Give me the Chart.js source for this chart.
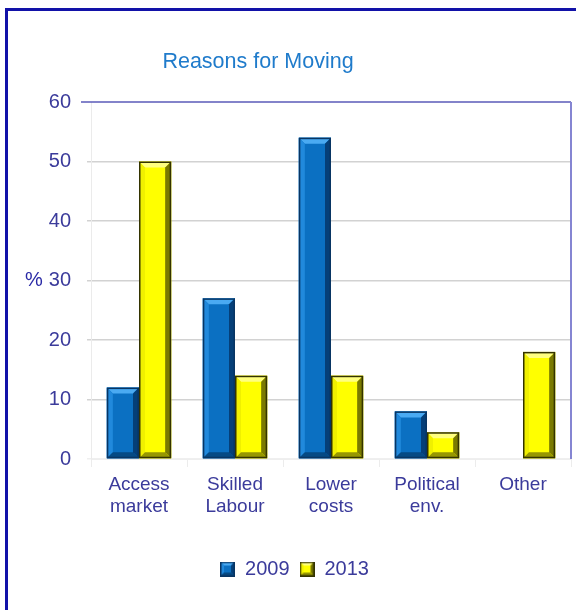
<!DOCTYPE html>
<html>
<head>
<meta charset="utf-8">
<title>Reasons for Moving</title>
<script src="https://cdn.jsdelivr.net/npm/chart.js@4"></script>
<style>
  html, body { margin: 0; padding: 0; background: #fff; }
  #wrap { width: 576px; height: 610px; }
</style>
</head>
<body>
<div id="wrap"><canvas id="grafico" width="576" height="610"></canvas></div>
<script>
// dados do gráfico
const categorias = [['Access', 'market'], ['Skilled', 'Labour'], ['Lower', 'costs'], ['Political', 'env.'], ['Other']];
const anos = ['2009', '2013'];
const valores2009 = [12, 27, 54, 8, null];
const valores2013 = [50, 14, 14, 4.5, 18];
const ticksY = [0, 10, 20, 30, 40, 50, 60];

const corTexto = '#3b3b9b';
const fonte = '"Liberation Sans", Arial, sans-serif';

// paletas do efeito 3D (base, topo, esquerda, direita, baixo, contorno)
const bevelAzul = { base: '#0b70c2', top: '#4aaaf2', left: '#2189dc', right: '#053f78', bottom: '#064a84', edge: '#083563' };
const bevelAmarelo = { base: '#ffff00', top: '#ffff80', left: '#f0f000', right: '#7a7a00', bottom: '#979700', edge: '#333300' };

function desenharBevel(ctx, left, top, right, bottom, p, b) {
  b = Math.min(b, (right - left) / 2, (bottom - top) / 2);
  ctx.save();
  ctx.fillStyle = p.base;
  ctx.fillRect(left, top, right - left, bottom - top);
  const poly = (pts, cor) => {
    ctx.beginPath();
    ctx.moveTo(pts[0][0], pts[0][1]);
    for (let i = 1; i < pts.length; i++) ctx.lineTo(pts[i][0], pts[i][1]);
    ctx.closePath();
    ctx.fillStyle = cor;
    ctx.fill();
  };
  poly([[left, top], [right, top], [right - b, top + b], [left + b, top + b]], p.top);
  poly([[left, top], [left + b, top + b], [left + b, bottom - b], [left, bottom]], p.left);
  poly([[right, top], [right, bottom], [right - b, bottom - b], [right - b, top + b]], p.right);
  poly([[left, bottom], [left + b, bottom - b], [right - b, bottom - b], [right, bottom]], p.bottom);
  ctx.strokeStyle = p.edge;
  ctx.lineWidth = 1.5;
  ctx.strokeRect(left + 0.75, top + 0.75, right - left - 1.5, bottom - top - 1.5);
  ctx.restore();
}

// quadradinhos da legenda com o mesmo efeito
function caixaLegenda(p) {
  const c = document.createElement('canvas');
  c.width = 15;
  c.height = 15;
  desenharBevel(c.getContext('2d'), 0, 0, 15, 15, p, 4);
  return c;
}

const pluginMoldura = {
  id: 'moldura',
  beforeDraw(chart) {
    const ctx = chart.ctx;
    ctx.save();
    ctx.fillStyle = '#ffffff';
    ctx.fillRect(0, 0, chart.width, chart.height);
    ctx.strokeStyle = '#1212a8';
    ctx.lineWidth = 3;
    ctx.beginPath();
    ctx.moveTo(6.5, chart.height);
    ctx.lineTo(6.5, 9.5);
    ctx.lineTo(chart.width, 9.5);
    ctx.stroke();
    ctx.restore();
  },
  afterDraw(chart) {
    const ctx = chart.ctx;
    const a = chart.chartArea;
    ctx.save();
    // borda superior e direita da área do gráfico
    ctx.strokeStyle = '#5a5ab8';
    ctx.lineWidth = 1.5;
    ctx.beginPath();
    ctx.moveTo(a.left - 10, a.top);
    ctx.lineTo(a.right, a.top);
    ctx.stroke();
    ctx.strokeStyle = '#8585d2';
    ctx.lineWidth = 2;
    ctx.beginPath();
    ctx.moveTo(a.right, a.top);
    ctx.lineTo(a.right, a.bottom);
    ctx.stroke();

    // título e rótulo do eixo
    ctx.fillStyle = '#1f7bcb';
    ctx.font = '21.5px ' + fonte;
    ctx.textAlign = 'center';
    ctx.textBaseline = 'middle';
    ctx.fillText('Reasons for Moving', 258, 62);
    ctx.fillStyle = '#2a2aa6';
    ctx.font = '20px ' + fonte;
    ctx.fillText('%', 34, chart.scales.y.getPixelForValue(30));
    ctx.restore();
  }
};

const pluginBevel = {
  id: 'bevel',
  afterDatasetsDraw(chart) {
    const ctx = chart.ctx;
    chart.data.datasets.forEach((ds, i) => {
      const meta = chart.getDatasetMeta(i);
      const p = i === 0 ? bevelAzul : bevelAmarelo;
      meta.data.forEach((bar, j) => {
        if (ds.data[j] == null) return;
        const { x, y, base, width } = bar.getProps(['x', 'y', 'base', 'width'], true);
        desenharBevel(ctx, x - width / 2, y, x + width / 2, base, p, 6);
      });
    });
  }
};

function gerarGrafico() {
  const ctx = document.getElementById('grafico').getContext('2d');
  new Chart(ctx, {
    type: 'bar',
    data: {
      labels: categorias,
      datasets: [
        { label: anos[0], data: valores2009, backgroundColor: bevelAzul.base, pointStyle: caixaLegenda(bevelAzul) },
        { label: anos[1], data: valores2013, backgroundColor: bevelAmarelo.base, pointStyle: caixaLegenda(bevelAmarelo) }
      ]
    },
    options: {
      responsive: false,
      animation: false,
      categoryPercentage: 0.67,
      barPercentage: 1.0,
      layout: { padding: { top: 102, left: 18, right: 5, bottom: 21 } },
      plugins: {
        title: { display: false },
        tooltip: { enabled: false },
        legend: {
          position: 'bottom',
          labels: {
            usePointStyle: true,
            boxWidth: 15,
            boxHeight: 15,
            padding: 10,
            color: corTexto,
            font: { family: fonte, size: 20 }
          }
        }
      },
      scales: {
        x: {
          grid: { drawOnChartArea: false, tickLength: 8, color: '#ececec' },
          border: { color: '#eeeeee' },
          ticks: { color: corTexto, font: { family: fonte, size: 19 }, padding: 6, maxRotation: 0 },
          afterFit: s => { s.height = 90; }
        },
        y: {
          min: 0,
          max: 60,
          afterBuildTicks: s => { s.ticks = ticksY.map(v => ({ value: v })); },
          grid: {
            tickLength: 4,
            lineWidth: 1.5,
            color: c => (c.tick && c.tick.value === 0 ? '#efefef' : c.tick && c.tick.value === 60 ? 'rgba(0,0,0,0)' : '#d2d2d2')
          },
          border: { color: '#ebebeb' },
          ticks: { color: corTexto, font: { family: fonte, size: 20 }, padding: 16 },
          afterFit: s => { s.width = 73; }
        }
      }
    },
    plugins: [pluginMoldura, pluginBevel]
  });
}

gerarGrafico();
</script>
</body>
</html>
